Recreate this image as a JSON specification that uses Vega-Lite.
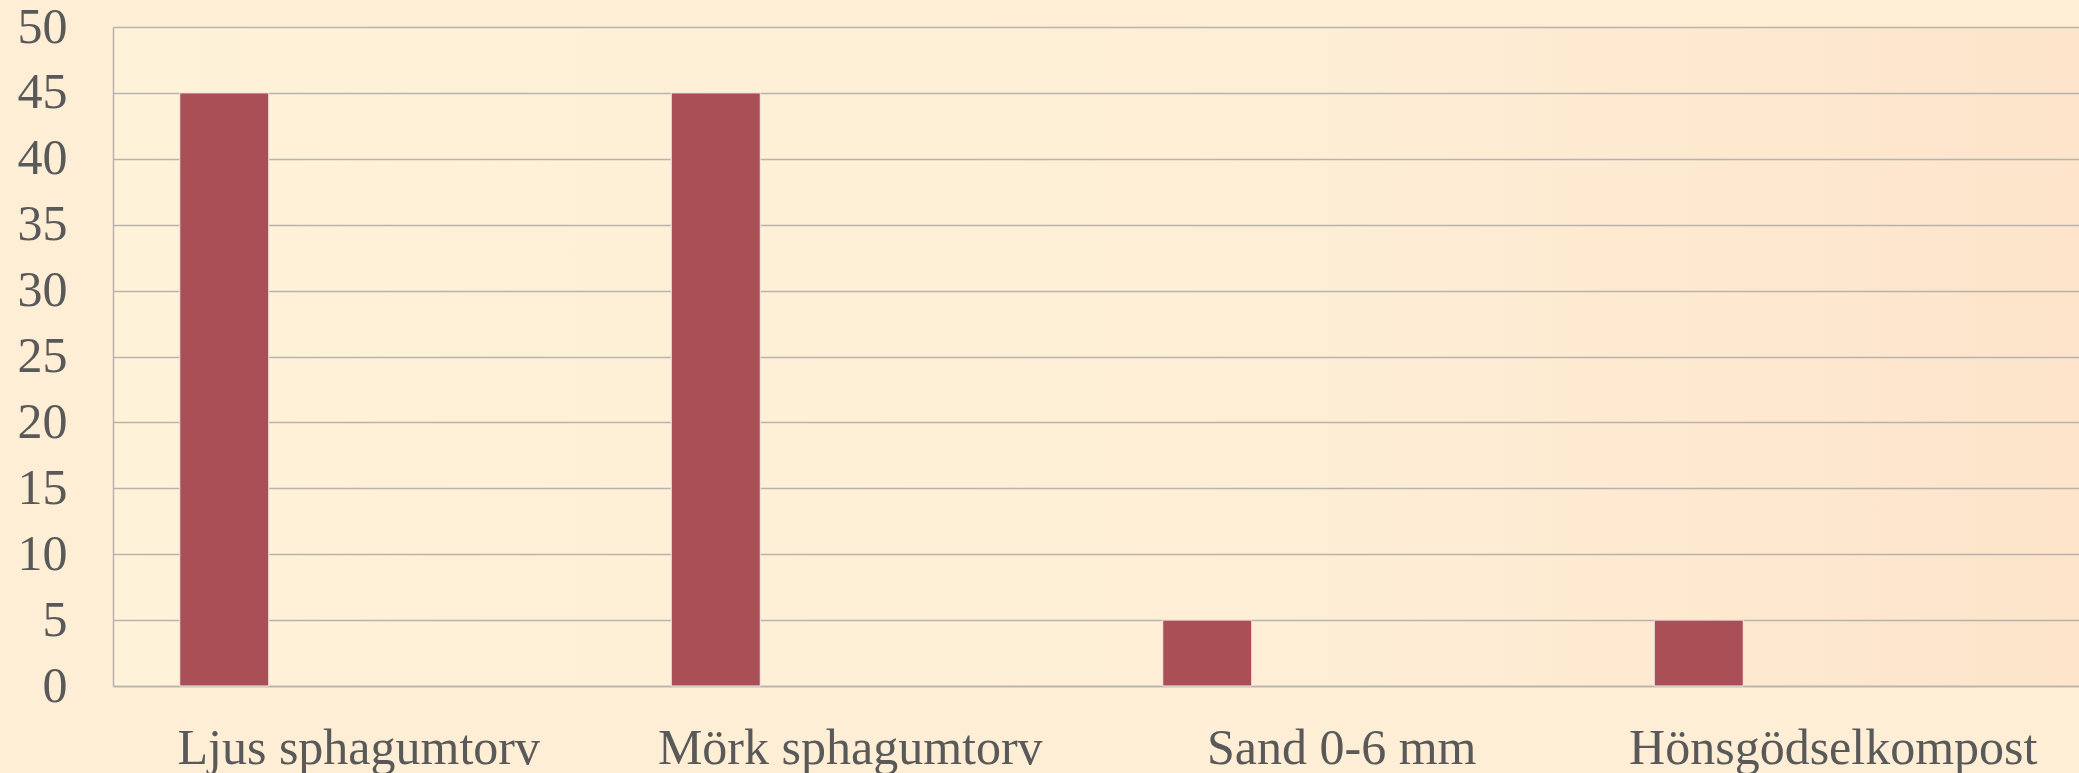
{
  "$schema": "https://vega.github.io/schema/vega-lite/v6.json",
  "autosize": "none",
  "padding": {"left": 113, "top": 27, "right": 0, "bottom": 87},
  "width": 1966,
  "height": 659,
  "background": "#fdeed5",
  "data": {
    "values": [
      {"material": "Ljus sphagumtorv", "andel": 45},
      {"material": "Mörk sphagumtorv", "andel": 45},
      {"material": "Sand 0-6 mm", "andel": 5},
      {"material": "Hönsgödselkompost", "andel": 5}
    ]
  },
  "mark": {"type": "bar", "width": 89, "xOffset": -134.5, "color": "#aa4f55", "stroke": "#f4eaea", "strokeWidth": 1},
  "encoding": {
    "x": {
      "field": "material",
      "type": "nominal",
      "sort": null,
      "scale": {"paddingInner": 0, "paddingOuter": 0},
      "axis": {
        "title": null,
        "labelAngle": 0,
        "labelLimit": 0,
        "ticks": false,
        "grid": false,
        "domainColor": "#b8b4ad",
        "domainWidth": 1.5,
        "labelFont": "Liberation Serif",
        "labelFontSize": 50,
        "labelColor": "#595959",
        "labelPadding": 37,
        "labelBaseline": "top"
      }
    },
    "y": {
      "field": "andel",
      "type": "quantitative",
      "scale": {"domain": [0, 50], "nice": false},
      "axis": {
        "title": null,
        "values": [0, 5, 10, 15, 20, 25, 30, 35, 40, 45, 50],
        "ticks": false,
        "grid": true,
        "gridColor": "#b8b4ad",
        "gridWidth": 1.5,
        "domainColor": "#b8b4ad",
        "domainWidth": 1.5,
        "labelFont": "Liberation Serif",
        "labelFontSize": 50,
        "labelColor": "#595959",
        "labelPadding": 46,
        "labelLimit": 0
      }
    }
  },
  "config": {
    "view": {
      "stroke": null,
      "fill": {
        "gradient": "linear",
        "x1": 0, "y1": 0, "x2": 1, "y2": 0,
        "stops": [
          {"offset": 0, "color": "#fef2d8"},
          {"offset": 0.6, "color": "#feeed6"},
          {"offset": 1, "color": "#fde4cb"}
        ]
      }
    }
  }
}
